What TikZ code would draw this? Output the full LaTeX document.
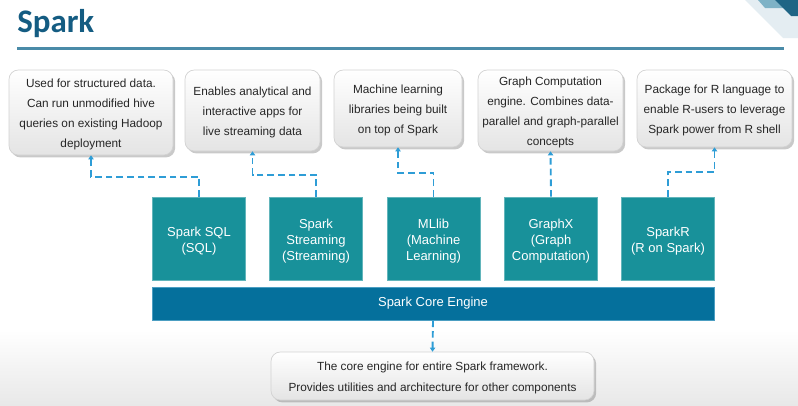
\documentclass[tikz,border=0pt]{standalone}
\usepackage{fontspec}
\setmainfont{Liberation Sans}
\newfontfamily\titlefont{Carlito}
\usetikzlibrary{arrows.meta,shadows,positioning}
\definecolor{titleblue}{HTML}{145C82}
\definecolor{rulecol}{HTML}{4A8BA8}
\definecolor{modteal}{HTML}{18919A}
\definecolor{modedge}{HTML}{62B5BB}
\definecolor{coreblue}{HTML}{05709C}
\definecolor{coreedge}{HTML}{4C9EC2}
\definecolor{dashblue}{HTML}{2E9DD6}
\definecolor{calledge}{HTML}{D2D2D2}
\definecolor{callbot}{HTML}{E4E4E4}
\definecolor{decopale}{HTML}{E4EDF2}
\definecolor{decomid}{HTML}{7EB2C6}
\definecolor{decodark}{HTML}{1F6585}
\tikzset{
  callout/.style={draw=calledge, line width=0.5pt, rounded corners=7pt,
    top color=white, bottom color=callbot, inner sep=0pt,
    drop shadow={shadow xshift=1.6pt, shadow yshift=-1.8pt, opacity=0.35, fill=black!60}},
  calltext/.style={align=center, inner sep=0pt, yshift=-1.5pt,
    font=\fontsize{8.85}{15}\selectfont, text=black!85},
  module/.style={draw=modedge, line width=0.5pt, fill=modteal,
    minimum width=69.75pt, minimum height=62.25pt, inner sep=0pt},
  modtext/.style={align=center, inner sep=0pt, yshift=-2.2pt, text=white,
    font=\fontsize{9.75}{12}\selectfont},
  core/.style={draw=coreedge, line width=0.5pt, fill=coreblue, text=white,
    minimum width=421.5pt, minimum height=24.75pt, inner sep=0pt,
    font=\fontsize{9.75}{12}\selectfont},
  conn/.style={draw=dashblue, line width=1.4pt, dash pattern=on 5pt off 3pt,
    -{Triangle[length=3pt,width=4pt]}},
}
\begin{document}
\begin{tikzpicture}[x=0.75pt,y=-0.75pt]
\useasboundingbox (0,0) rectangle (798,405);
% background
\fill[white] (0,0) rectangle (798,405);
\shade[top color=white, bottom color=black!9] (0,330) rectangle (798,405);
% top-right decoration
\fill[decopale] (745,0) -- (798,0) -- (798,38) -- (783,38) -- cycle;
\fill[decomid] (758,0) -- (781,0) -- (788,8) -- (765,8) -- cycle;
\fill[decodark] (775,0) -- (798,0) -- (798,16) -- (791,16) -- cycle;
% title
\node[anchor=base west, inner sep=0pt, text=titleblue, font=\titlefont\bfseries\fontsize{24.7}{28}\selectfont] (title) at (17,32) {Spark};
\draw[rulecol, line width=1.6pt] (17,48.5) -- (784,48.5);
% callouts
\node[callout, minimum width=123pt, minimum height=63.75pt] (c1) at (91,112.5) {};
\node[calltext] (c1t) at (c1.center)
  {Used for structured data.\\Can run unmodified hive\\queries on existing Hadoop\\deployment};
\node[callout, minimum width=101.25pt, minimum height=60.75pt] (c2) at (252.5,110.5) {};
\node[calltext] (c2t) at (c2.center)
  {Enables analytical and\\interactive apps for\\live streaming data};
\node[callout, minimum width=96pt, minimum height=57.75pt] (c3) at (398,108.5) {};
\node[calltext] (c3t) at (c3.center)
  {Machine learning\\libraries being built\\on top of Spark};
\node[callout, minimum width=108.75pt, minimum height=60.75pt] (c4) at (550.5,110.5) {};
\node[calltext] (c4t) at (c4.center)
  {Graph Computation\\engine. Combines data-\\parallel and graph-parallel\\concepts};
\node[callout, minimum width=116.25pt, minimum height=57.75pt] (c5) at (714.5,108.5) {};
\node[calltext] (c5t) at (c5.center)
  {Package for R language to\\enable R-users to leverage\\Spark power from R shell};
\node[callout, minimum width=242.25pt, minimum height=36pt] (cb) at (432.5,376) {};
\node[calltext, font=\fontsize{8.85}{15.75}\selectfont] (cbt) at (cb.center)
  {The core engine for entire Spark framework.\\Provides utilities and architecture for other components};
% modules
\node[module] (sql) at (199,238.5) {};
\node[modtext] (sqlt) at (sql.center) {Spark SQL\\(SQL)};
\node[module] (stream) at (316,238.5) {};
\node[modtext] (streamt) at (stream.center) {Spark\\Streaming\\(Streaming)};
\node[module] (ml) at (433.5,238.5) {};
\node[modtext] (mlt) at (ml.center) {MLlib\\(Machine\\Learning)};
\node[module] (gx) at (551,238.5) {};
\node[modtext] (gxt) at (gx.center) {GraphX\\(Graph\\Computation)};
\node[module] (sr) at (668,238.5) {};
\node[modtext] (srt) at (sr.center) {SparkR\\(R on Spark)};
\node[core] (coreeng) at (433,303.5) {Spark Core Engine};
% connectors
\draw[conn] (sql.north) -- ++(0,-20) -| (c1.south);
\draw[conn] (stream.north) -- ++(0,-22) -| (c2.south);
\draw[conn] (ml.north) -- ++(0,-24) -| (c3.south);
\draw[conn] (gx.north) -- (c4.south);
\draw[conn] (sr.north) -- ++(0,-25) -| (c5.south);
\draw[conn] (coreeng.south) -- (cb.north);
\end{tikzpicture}
\end{document}
